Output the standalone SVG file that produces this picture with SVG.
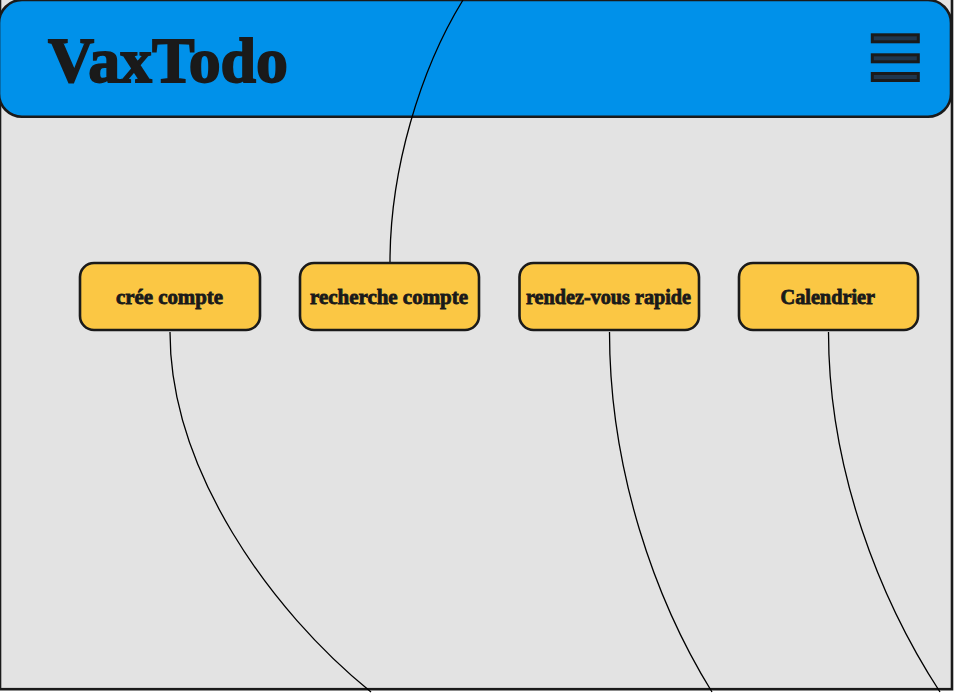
<svg xmlns="http://www.w3.org/2000/svg" width="954" height="693" viewBox="0 0 954 693">
<style>
.t{font-family:"Liberation Serif","DejaVu Serif",serif;font-weight:700;fill:#1a1a1a;stroke:#1a1a1a}
.h{font-size:64px;stroke-width:1.8}
.b{fill:#fbc744;stroke:#1a1a1a;stroke-width:2.6}
.c{fill:none;stroke:#000;stroke-width:1.3}
.l{font-size:20px;stroke-width:.8}
.m{fill:#20364c;stroke:#1a1a1a;stroke-width:3}
</style>
<rect width="954" height="693" fill="#fff"/>
<rect id="page" x="0" y="-2" width="952" height="691.200" fill="#e3e3e3" stroke="#1a1a1a" stroke-width="2.600"/>
<g id="header">
<rect x="-1" y="0" width="952" height="116.700" rx="23" fill="#0091ea" stroke="#1a1a1a" stroke-width="2.600"/>
<text class="t h" x="48" y="82" textLength="240" lengthAdjust="spacingAndGlyphs">VaxTodo</text>
</g>
<g id="menu">
<rect class="m" x="872.300" y="34.800" width="46" height="7"/>
<rect class="m" x="872.300" y="54.800" width="46" height="7"/>
<rect class="m" x="872.300" y="73.500" width="46" height="7"/>
</g>
<g id="connectors">
<path class="c" d="M390 262C390 170 420 70 463 0"/>
<path class="c" d="M170 332C170 470 270 610 371 692"/>
<path class="c" d="M609.500 332C609.500 470 655 600 712 692"/>
<path class="c" d="M828.500 332C828.500 470 880 600 940 692"/>
</g>
<g id="node1"><rect class="b" x="80" y="263" width="180" height="67" rx="14"/><text class="t l" x="116" y="304" textLength="107" lengthAdjust="spacingAndGlyphs">crée compte</text></g>
<g id="node2"><rect class="b" x="300" y="263" width="179" height="67" rx="14"/><text class="t l" x="310" y="304" textLength="158" lengthAdjust="spacingAndGlyphs">recherche compte</text></g>
<g id="node3"><rect class="b" x="519.500" y="263" width="179.500" height="67" rx="14"/><text class="t l" x="526" y="304" textLength="165" lengthAdjust="spacingAndGlyphs">rendez-vous rapide</text></g>
<g id="node4"><rect class="b" x="739" y="263" width="179" height="67" rx="14"/><text class="t l" x="780.500" y="304" textLength="94.500" lengthAdjust="spacingAndGlyphs">Calendrier</text></g>
</svg>
